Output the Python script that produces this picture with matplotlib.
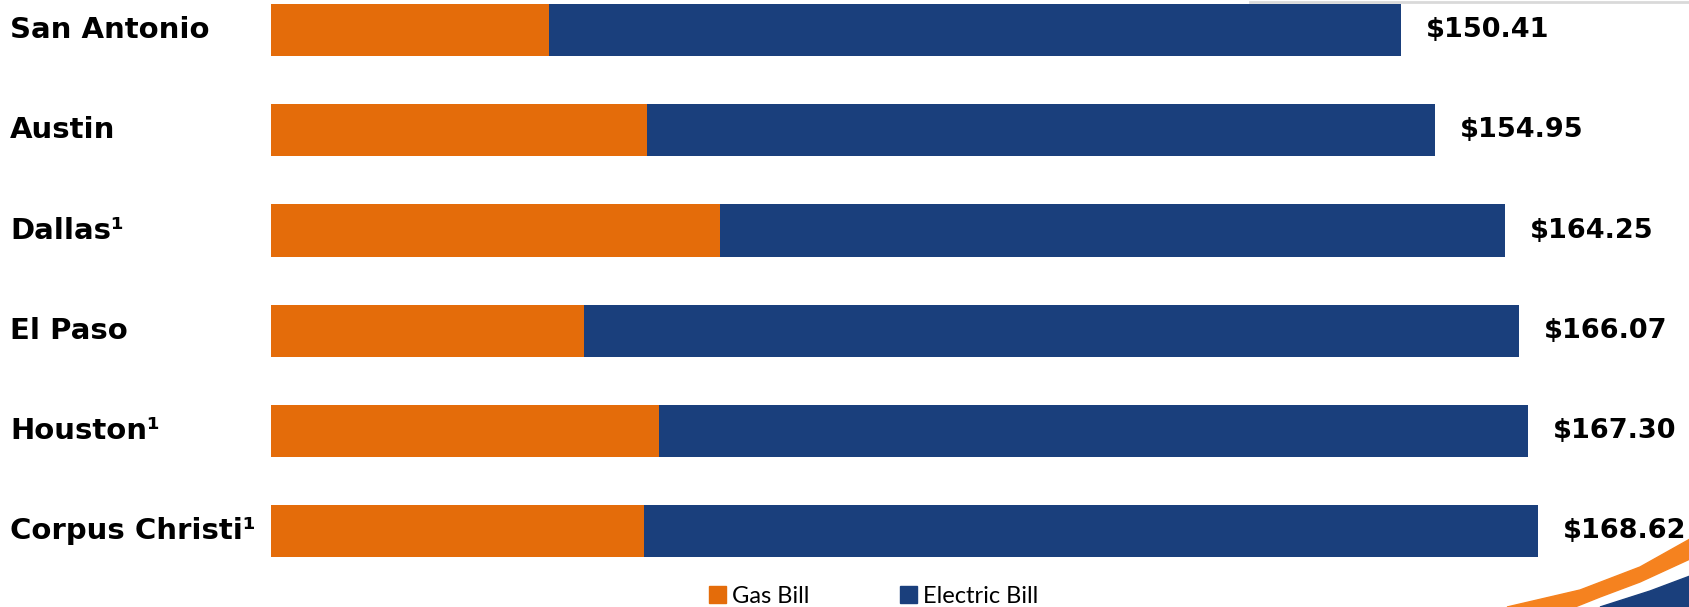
import matplotlib.pyplot as plt
from matplotlib.patches import Patch, Polygon
from matplotlib.lines import Line2D

# Monthly bills by city (gas + electric)
cities = ['San Antonio', 'Austin', 'Dallas¹', 'El Paso', 'Houston¹', 'Corpus Christi¹']
gas_bill = [37.00, 50.00, 59.80, 41.70, 51.60, 49.60]
totals = [150.41, 154.95, 164.25, 166.07, 167.30, 168.62]
electric_bill = [t - g for t, g in zip(totals, gas_bill)]
total_labels = ['$150.41', '$154.95', '$164.25', '$166.07', '$167.30', '$168.62']

gas_color = '#E46C0A'
elec_color = '#1A3F7C'

W, H, DPI = 1690, 607, 100
fig = plt.figure(figsize=(W / DPI, H / DPI), dpi=DPI)
ax = fig.add_axes([0, 0, 1, 1])

px = 7.513  # pixels per dollar
x0 = 271    # pixel of $0
pitch = 100.26
ax.set_xlim(-x0 / px, (W - x0) / px)
ax.set_ylim(5 + (H - 531.3) / pitch, -30 / pitch)

ypos = list(range(len(cities)))
ax.barh(ypos, gas_bill, height=0.52, color=gas_color)
ax.barh(ypos, electric_bill, left=gas_bill, height=0.52, color=elec_color)

for y, name, tot, lab in zip(ypos, cities, totals, total_labels):
    ax.text(10 / W, y, name, transform=ax.get_yaxis_transform(),
            ha='left', va='center', fontsize=21, fontweight='bold',
            family='DejaVu Sans')
    ax.text(tot + 25 / px, y, lab, ha='left', va='center', fontsize=19.5,
            fontweight='bold', family='DejaVu Sans')

ax.axis('off')

# decorative swoosh in the lower right corner
orange = Polygon([(1507, 0), (1580, 17), (1640, 40), (1690, 68),
                  (1690, 48), (1640, 25), (1600, 10), (1575, 0)],
                 closed=True, transform=None, color='#F5821F')
blue = Polygon([(1600, 0), (1650, 16), (1690, 31), (1690, 0)],
               closed=True, transform=None, color=elec_color)
fig.patches.extend([orange, blue])
fig.add_artist(Line2D([1250 / W, 1], [1 - 2 / H, 1 - 2 / H], transform=fig.transFigure,
                      color='#d9d9d9', lw=2))

handles = [Patch(color=gas_color, label='Gas Bill'),
           Patch(color=elec_color, label='Electric Bill')]
fig.legend(handles=handles, loc='center', bbox_to_anchor=(0.517, 0.018), ncol=2,
           frameon=False, prop={'family': 'Lato', 'size': 17},
           handlelength=0.72, handleheight=0.72, handletextpad=0.25,
           columnspacing=3.85, borderpad=0, borderaxespad=0)

fig.savefig('out.png', dpi=DPI)
